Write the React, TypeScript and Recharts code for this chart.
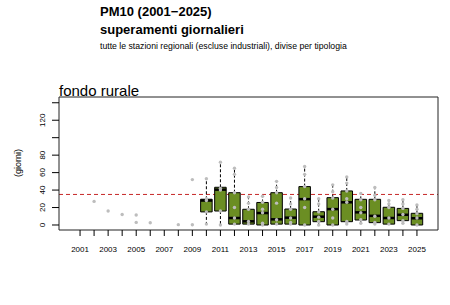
import { ComposedChart, XAxis, YAxis, Scatter, ReferenceLine, ReferenceArea } from 'recharts'

const allYears = [
  2001, 2002, 2003, 2004, 2005, 2006, 2007, 2008, 2009, 2010, 2011, 2012, 2013,
  2014, 2015, 2016, 2017, 2018, 2019, 2020, 2021, 2022, 2023, 2024, 2025,
]
const yTicks = [0, 20, 40, 60, 80, 100, 120, 140]
const yLabelled = [0, 20, 40, 60, 80, 120]
const limitDays = 35

// boxplot stats
const boxYears = [2010, 2011, 2012, 2013, 2014, 2015, 2016, 2017, 2018, 2019, 2020, 2021, 2022, 2023, 2024, 2025]
const whiskerLow = [1, 0, 1, 1, 0, 1, 1, 0, 0, 0, 1, 2, 1, 1, 2, 0]
const q1 = [15, 16, 1, 1, 0, 1, 1, 0, 3.8, 0, 3.8, 5.7, 2.7, 1, 5, 0]
const median = [28, 40.5, 8, 4.2, 13.7, 6.5, 8.4, 29.6, 9.5, 18.2, 26, 14.5, 10.5, 8, 11.7, 7.7]
const q3 = [29.5, 43.2, 37, 18, 25.8, 37, 18.3, 44, 15.2, 31.3, 39, 29.4, 29.4, 20.3, 19, 13.4]
const whiskerHigh = [53, 72.5, 64.5, 32.3, 33, 49.6, 31.3, 67, 30.5, 46.3, 55, 36, 43, 28.6, 29.4, 23]

// single stations, same order as allYears
const stationDays: number[][] = [
  [],
  [27],
  [16],
  [12],
  [11.5, 3],
  [2.6],
  [],
  [0.4],
  [52, 0.3],
  [53, 30, 28, 15, 1],
  [72, 42, 40, 16, 0],
  [65, 58, 37, 20, 8, 1],
  [32, 25, 18, 4, 1],
  [33, 26, 18, 14, 2, 0],
  [50, 43, 37, 25, 6, 1],
  [31, 24, 18, 8, 3, 1],
  [67, 58, 44, 30, 20, 0],
  [30, 24, 15, 9, 4, 0],
  [46, 38, 31, 18, 8, 0],
  [55, 48, 39, 30, 26, 4, 1],
  [36, 29, 20, 14, 6, 2],
  [43, 34, 29, 10, 3, 1],
  [28, 24, 20, 8, 1],
  [29, 24, 19, 12, 5, 2],
  [23, 18, 13, 8, 0],
]

const points = allYears.flatMap((year, i) => stationDays[i].map(value => ({ year, value })))

const FONT = '"Liberation Sans", Arial, sans-serif'
const GREEN = '#6B8E23'
const HALF = 0.41

const XTick = (props: any) => {
  const year = props.payload.value
  if (year % 2 === 0) return <g />
  return (
    <text x={props.x} y={252} textAnchor="middle" fontSize={8} fontFamily={FONT} fill="#000">
      {year}
    </text>
  )
}

const YTick = (props: any) => {
  const v = props.payload.value
  if (!yLabelled.includes(v)) return <g />
  return (
    <text
      x={45}
      y={props.y}
      transform={`rotate(-90 45 ${props.y})`}
      textAnchor="middle"
      fontSize={8}
      fontFamily={FONT}
      fill="#000"
    >
      {v}
    </text>
  )
}

export default function App() {
  return (
    <div style={{ position: 'absolute', left: 0, top: 0, width: 450, height: 305, background: '#fff' }}>
      <svg width={450} height={305} style={{ position: 'absolute', left: 0, top: 0 }}>
        <text x={100} y={16} fontSize={13} fontWeight="bold" fontFamily={FONT}>PM10 (2001−2025)</text>
        <text x={100} y={33.5} fontSize={13} fontWeight="bold" fontFamily={FONT}>superamenti giornalieri</text>
        <text x={100} y={48.5} fontSize={8.7} fontFamily={FONT}>
          tutte le stazioni regionali (escluse industriali), divise per tipologia
        </text>
        <text x={59} y={95.5} fontSize={15} fontFamily={FONT}>fondo rurale</text>
        <text x={21} y={163} transform="rotate(-90 21 163)" textAnchor="middle" fontSize={9} fontFamily={FONT}>
          (giorni)
        </text>
      </svg>
      <div style={{ position: 'absolute', left: 0, top: 0 }}>
        <ComposedChart width={450} height={305} margin={{ top: 97, right: 12, left: 0, bottom: 0 }}>
          <XAxis
            dataKey="year"
            type="number"
            domain={[1999.5, 2026.5]}
            ticks={allYears}
            interval={0}
            allowDataOverflow
            axisLine={false}
            tickLine={{ stroke: '#000' }}
            tickSize={6}
            tick={<XTick />}
            height={75}
          />
          <YAxis
            dataKey="value"
            type="number"
            domain={[-5.73, 146.6]}
            ticks={yTicks}
            interval={0}
            allowDataOverflow
            axisLine={false}
            tickLine={{ stroke: '#000' }}
            tickSize={7}
            tick={<YTick />}
            width={59}
          />
          <ReferenceLine y={limitDays} stroke="#C62828" strokeDasharray="4 3" strokeWidth={1} zIndex={50} />
          {boxYears.map((year, i) => (
            <ReferenceLine
              key={`wh${year}`}
              segment={[{ x: year, y: q3[i] }, { x: year, y: whiskerHigh[i] }]}
              stroke="#000"
              strokeDasharray="3 2"
              zIndex={60}
            />
          ))}
          {boxYears.map((year, i) =>
            whiskerLow[i] < q1[i] ? (
              <ReferenceLine
                key={`wl${year}`}
                segment={[{ x: year, y: q1[i] }, { x: year, y: whiskerLow[i] }]}
                stroke="#000"
                strokeDasharray="3 2"
                zIndex={60}
              />
            ) : null
          )}
          {boxYears.map((year, i) => (
            <ReferenceArea
              key={`box${year}`}
              x1={year - HALF}
              x2={year + HALF}
              y1={q1[i]}
              y2={q3[i]}
              fill={GREEN}
              fillOpacity={1}
              stroke="#000"
              strokeWidth={1}
              zIndex={100}
            />
          ))}
          {boxYears.map((year, i) => (
            <ReferenceLine
              key={`md${year}`}
              segment={[{ x: year - HALF, y: median[i] }, { x: year + HALF, y: median[i] }]}
              stroke="#000"
              strokeWidth={2.5}
              zIndex={150}
            />
          ))}
          <ReferenceArea x1={1999.5} x2={2026.5} y1={-5.73} y2={146.6} fill="none" stroke="#222" strokeWidth={1} zIndex={160} />
          <Scatter
            data={points}
            isAnimationActive={false}
            zIndex={700}
            shape={(p: any) => <circle cx={p.cx} cy={p.cy} r={1.7} fill="#BDBDBD" />}
          />
        </ComposedChart>
      </div>
    </div>
  )
}
